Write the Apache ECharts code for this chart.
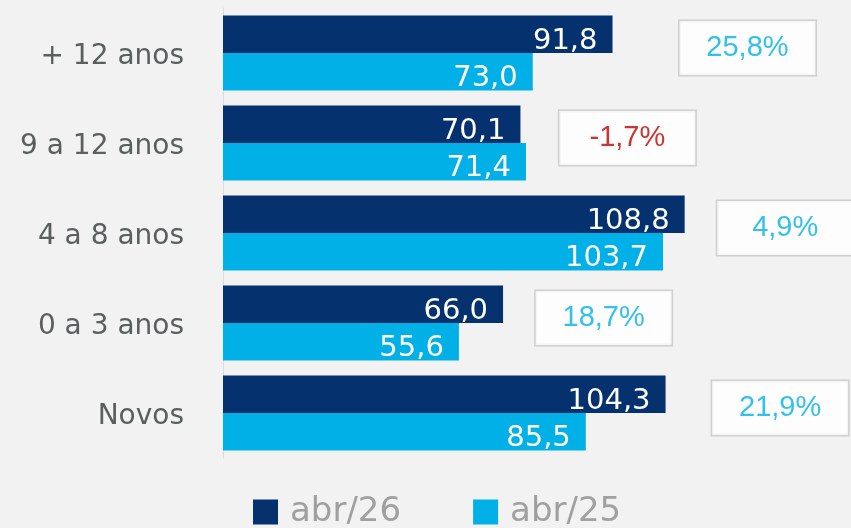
<!DOCTYPE html>
<html>
<head>
<meta charset="utf-8">
<script src="https://cdn.jsdelivr.net/npm/echarts@6/dist/echarts.min.js"></script>
<style>
html, body { margin: 0; padding: 0; background: #f2f2f2; }
#main { width: 851px; height: 528px; }
</style>
</head>
<body>
<div id="main"></div>
<script>
// categorias (de cima para baixo)
var categorias = ['+ 12 anos', '9 a 12 anos', '4 a 8 anos', '0 a 3 anos', 'Novos'];
var abr26 = [91.8, 70.1, 108.8, 66.0, 104.3];
var abr25 = [73.0, 71.4, 103.7, 55.6, 85.5];
// variação anual (%)
var variacao = [25.8, -1.7, 4.9, 18.7, 21.9];
// onde fica a caixa da variação, em unidades do eixo
var variacaoEm = [123.6, 95.3, 132.5, 89.7, 131.3];

var chart = echarts.init(document.getElementById('main'));

function fmt(v) {
	return v.toFixed(1).replace('.', ',');
}

var barLabel = {
	show: true,
	position: 'insideRight',
	distance: 15,
	offset: [0, 7],
	color: '#ffffff',
	fontSize: 29,
	fontFamily: 'DejaVu Sans',
	formatter: function (p) { return fmt(p.value); }
};

var caixas = variacao.map(function (v, i) {
	return {
		value: [variacaoEm[i], i],
		label: { color: v < 0 ? '#c00000' : '#00b0e6' }
	};
});

var option = {
	backgroundColor: '#f2f2f2',
	animation: false,
	grid: { left: 223, right: 0, top: 8, bottom: 70 },
	legend: {
		top: 495,
		left: 253,
		padding: 0,
		itemWidth: 25,
		itemHeight: 25,
		itemGap: 72,
		icon: 'rect',
		data: ['abr/26', 'abr/25'],
		textStyle: {
			color: '#a0a0a0',
			fontSize: 34,
			fontFamily: 'DejaVu Sans',
			padding: [0, 0, 0, 7]
		}
	},
	xAxis: {
		type: 'value',
		min: 0,
		max: 148,
		show: false
	},
	yAxis: {
		type: 'category',
		inverse: true,
		data: categorias,
		axisTick: { show: false },
		axisLine: { lineStyle: { color: '#dcdcdc', width: 1 } },
		axisLabel: {
			margin: 39,
			formatter: '{c|{value}}',
			rich: {
				c: {
					color: '#5a5e5e',
					fontSize: 28,
					fontFamily: 'DejaVu Sans',
					padding: [8, 0, 0, 0]
				}
			}
		}
	},
	series: [
		{
			name: 'abr/26',
			type: 'bar',
			data: abr26,
			barGap: 0,
			barCategoryGap: '16.7%',
			itemStyle: { color: '#05316f' },
			label: barLabel
		},
		{
			name: 'abr/25',
			type: 'bar',
			data: abr25,
			itemStyle: { color: '#00b0e6' },
			label: barLabel
		},
		{
			name: 'variacao',
			type: 'scatter',
			silent: true,
			symbolSize: 1,
			itemStyle: { color: 'rgba(0,0,0,0)' },
			data: caixas,
			label: {
				show: true,
				position: 'inside',
				offset: [0, -5],
				width: 136,
				height: 54,
				lineHeight: 54,
				align: 'center',
				verticalAlign: 'middle',
				backgroundColor: '#ffffff',
				borderColor: '#c6c6c6',
				borderWidth: 1.5,
				fontSize: 29,
				fontFamily: 'Liberation Sans',
				formatter: function (p) { return fmt(variacao[p.dataIndex]) + '%'; }
			}
		}
	]
};

chart.setOption(option);
</script>
</body>
</html>
